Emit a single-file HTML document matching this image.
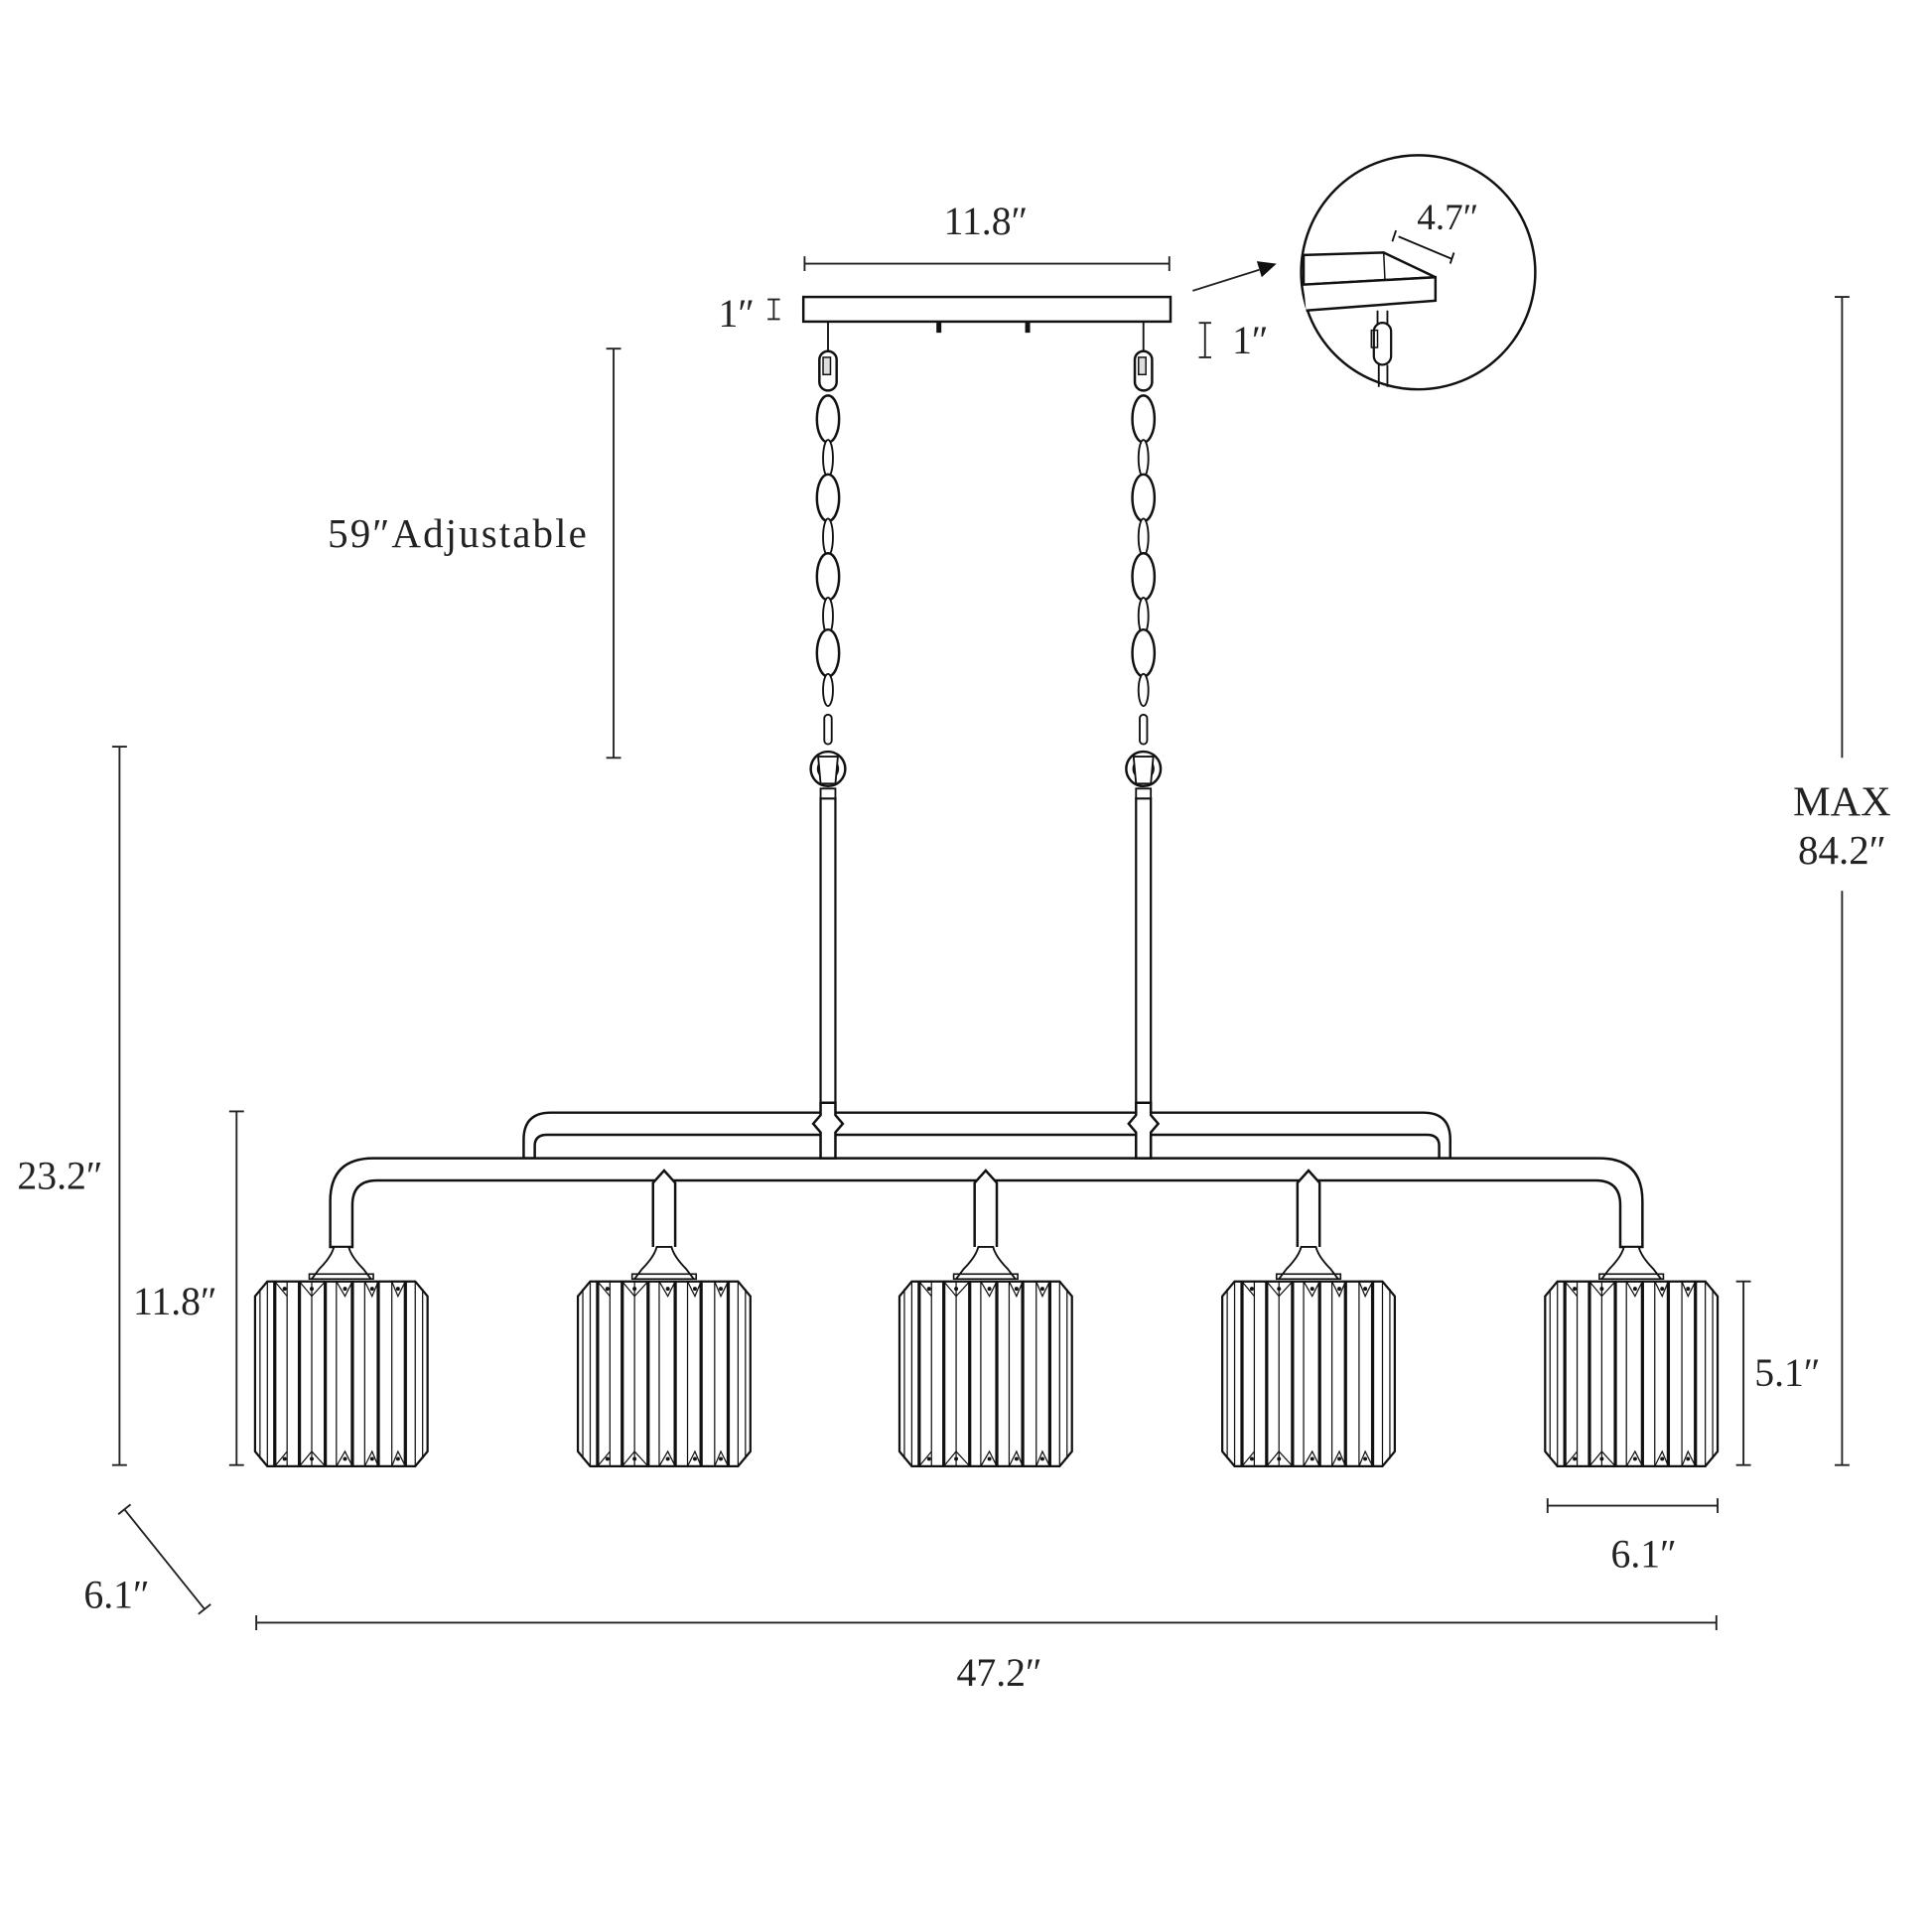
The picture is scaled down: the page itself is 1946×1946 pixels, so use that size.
<!DOCTYPE html>
<html><head><meta charset="utf-8"><style>
html,body{margin:0;padding:0;background:#fff;}
svg{display:block;}
text{font-family:"Liberation Serif",serif;fill:#222;}
</style></head><body>
<svg width="1946" height="1946" viewBox="0 0 1568 1568" xmlns="http://www.w3.org/2000/svg">
<defs>
<g id="shade" stroke="#111" fill="none">
  <path d="M-24 1038 L-18 1030 Q-8 1020 -6 1012 L6 1012 Q8 1020 18 1030 L24 1038" stroke-width="1.5" fill="#fff"/>
  <rect x="-26" y="1034" width="52" height="4" stroke-width="1.3"/>
  <path d="M-60 1040 L60 1040 L70 1052 L70 1178 L60 1190 L-60 1190 L-70 1178 L-70 1052 Z" stroke-width="1.8" fill="#fff"/>
  <path d="M-66 1046 L-66 1184 M66 1046 L66 1184" stroke-width="1"/>
  <g stroke-width="2.6">
    <path d="M-54 1040 V1190 M-34 1040 V1190 M-13 1040 V1190 M9 1040 V1190 M30 1040 V1190 M52 1040 V1190"/>
  </g>
  <g stroke-width="1">
    <path d="M-44 1040 V1190 M-24 1040 V1190 M-4 1040 V1190 M19 1040 V1190 M41 1040 V1190 M60 1040 V1190 M-60 1040 V1190"/>
    <path d="M-34 1040 L-24 1052 L-13 1040 M-4 1040 L3 1052 L9 1040 M19 1040 L25 1052 L30 1040 M-54 1040 L-44 1052 M41 1040 L46 1052 L52 1040"/>
    <path d="M-34 1190 L-24 1178 L-13 1190 M-4 1190 L3 1178 L9 1190 M19 1190 L25 1178 L30 1190 M-54 1190 L-44 1178 M41 1190 L46 1178 L52 1190"/>
  </g>
  <g fill="#111" stroke="none">
    <circle cx="-24" cy="1046" r="1.6"/><circle cx="3" cy="1046" r="1.6"/><circle cx="25" cy="1046" r="1.6"/><circle cx="46" cy="1046" r="1.6"/><circle cx="-46" cy="1046" r="1.6"/>
    <circle cx="-24" cy="1184" r="1.6"/><circle cx="3" cy="1184" r="1.6"/><circle cx="25" cy="1184" r="1.6"/><circle cx="46" cy="1184" r="1.6"/><circle cx="-46" cy="1184" r="1.6"/>
  </g>
</g>
<g id="chain" stroke="#111" fill="#fff" stroke-width="2">
  <line x1="0" y1="261" x2="0" y2="285" stroke-width="1.5"/>
  <rect x="-7" y="285" width="14" height="32" rx="7"/>
  <rect x="-4" y="290" width="6" height="14" stroke-width="1.2" fill="#ddd"/>
  <ellipse cx="0" cy="340" rx="9" ry="19"/>
  <ellipse cx="0" cy="372" rx="4" ry="15" stroke-width="1.5"/>
  <ellipse cx="0" cy="404" rx="9" ry="19"/>
  <ellipse cx="0" cy="436" rx="4" ry="15" stroke-width="1.5"/>
  <ellipse cx="0" cy="468" rx="9" ry="19"/>
  <ellipse cx="0" cy="500" rx="4" ry="15" stroke-width="1.5"/>
  <ellipse cx="0" cy="530" rx="9" ry="19"/>
  <ellipse cx="0" cy="560" rx="4" ry="13" stroke-width="1.5"/>
  <rect x="-3" y="580" width="6" height="24" rx="3" stroke-width="1.5"/>
  <circle cx="0" cy="624" r="14"/>
  <circle cx="0" cy="624" r="8"/>
  <path d="M-8 614 L8 614 L6 636 L-6 636 Z" stroke-width="1.5"/>
  <rect x="-6" y="640" width="12" height="8" stroke-width="1.5"/>
</g>
</defs>

<g stroke="#111" fill="none" stroke-width="1.5">
  <rect x="652" y="241" width="298" height="20" stroke-width="2"/>
  <path d="M762 261 v9 M834 261 v9" stroke-width="4"/>
  <rect x="666" y="648" width="12" height="292" stroke-width="1.8"/>
  <rect x="922" y="648" width="12" height="292" stroke-width="1.8"/>
</g>
<use href="#chain" x="672"/>
<use href="#chain" x="928"/>

<g stroke="#111" fill="#fff" stroke-width="2">
  <path d="M434 940 L434 930 Q434 921 444 921 L1158 921 Q1168 921 1168 930 L1168 940 L1177 940 L1177 925 Q1177 903 1155 903 L447 903 Q425 903 425 925 L425 940 Z"/>
  <path d="M268 1012 L268 975 Q268 940 303 940 L1298 940 Q1333 940 1333 975 L1333 1012 L1315 1012 L1315 978 Q1315 958 1295 958 L306 958 Q286 958 286 978 L286 1012 Z"/>
  <path d="M530 1012 L530 960 L539 950 L548 960 L548 1012"/>
  <path d="M791 1012 L791 960 L800 950 L809 960 L809 1012"/>
  <path d="M1053 1012 L1053 960 L1062 950 L1071 960 L1071 1012"/>
  <path d="M666 895 L678 895 L678 905 L684 912 L678 919 L678 940 L666 940 L666 919 L660 912 L666 905 Z"/>
  <path d="M922 895 L934 895 L934 905 L940 912 L934 919 L934 940 L922 940 L922 919 L916 912 L922 905 Z"/>
</g>

<use href="#shade" x="277"/>
<use href="#shade" x="539"/>
<use href="#shade" x="800"/>
<use href="#shade" x="1062"/>
<use href="#shade" x="1324"/>

<g stroke="#222" stroke-width="1.5" fill="none">
  <path d="M653 214 H949 M653 208 v12 M949 208 v12"/>
  <path d="M628 243 v16 M623 243 h10 M623 259 h10"/>
  <path d="M978 262 v28 M973 262 h10 M973 290 h10"/>
  <path d="M498 283 V615 M492 283 h12 M492 615 h12"/>
  <path d="M97 606 V1189 M91 606 h12 M91 1189 h12"/>
  <path d="M192 902 V1189 M186 902 h12 M186 1189 h12"/>
  <path d="M1415 1040 V1189 M1409 1040 h12 M1409 1189 h12"/>
  <path d="M1495 241 V615 M1495 723 V1189 M1489 241 h12 M1489 1189 h12"/>
  <path d="M1256 1222 H1394 M1256 1216 v12 M1394 1216 v12"/>
  <path d="M208 1317 H1393 M208 1311 v12 M1393 1311 v12"/>
  <path d="M101 1225 L166 1306 M96 1229 l10 -8 M161 1310 l10 -8"/>
  <path d="M968 236 L1022 219"/>
</g>
<path d="M1036 214 L1020 212 L1024 225 Z" fill="#111"/>

<g stroke="#111" fill="none" stroke-width="2">
  <circle cx="1151" cy="221" r="95"/>
  <path d="M1135 192 L1178 210 M1133 187 l-3 9 M1180 205 l-3 9" stroke-width="1.5"/>
  <path d="M1058 207 L1123 205 L1165 225 L1058 231 Z" fill="#fff"/>
  <path d="M1058 231 L1165 225 L1165 244 L1060 252" fill="#fff"/>
  <path d="M1123 205 L1124 227" stroke-width="1.2"/>
  <rect x="1115" y="262" width="14" height="34" rx="7" stroke-width="1.8"/>
  <rect x="1113" y="268" width="5" height="14" stroke-width="1.2"/>
  <path d="M1118 252 v12 M1126 252 v12 M1119 296 v18 M1126 296 v18" stroke-width="1.5"/>
</g>

<g font-size="32">
  <text x="800" y="190" text-anchor="middle">11.8″</text>
  <text x="583" y="265">1″</text>
  <text x="1000" y="287">1″</text>
  <text x="1150" y="186" font-size="30">4.7″</text>
  <text x="266" y="444" font-size="33" textLength="210">59″Adjustable</text>
  <text x="14" y="965">23.2″</text>
  <text x="108" y="1067">11.8″</text>
  <text x="1424" y="1125">5.1″</text>
  <text x="1495" y="662" text-anchor="middle" font-size="34">MAX</text>
  <text x="1495" y="701" text-anchor="middle" font-size="33">84.2″</text>
  <text x="1334" y="1272" text-anchor="middle">6.1″</text>
  <text x="68" y="1305">6.1″</text>
  <text x="811" y="1368" text-anchor="middle">47.2″</text>
</g>
</svg>
</body></html>
